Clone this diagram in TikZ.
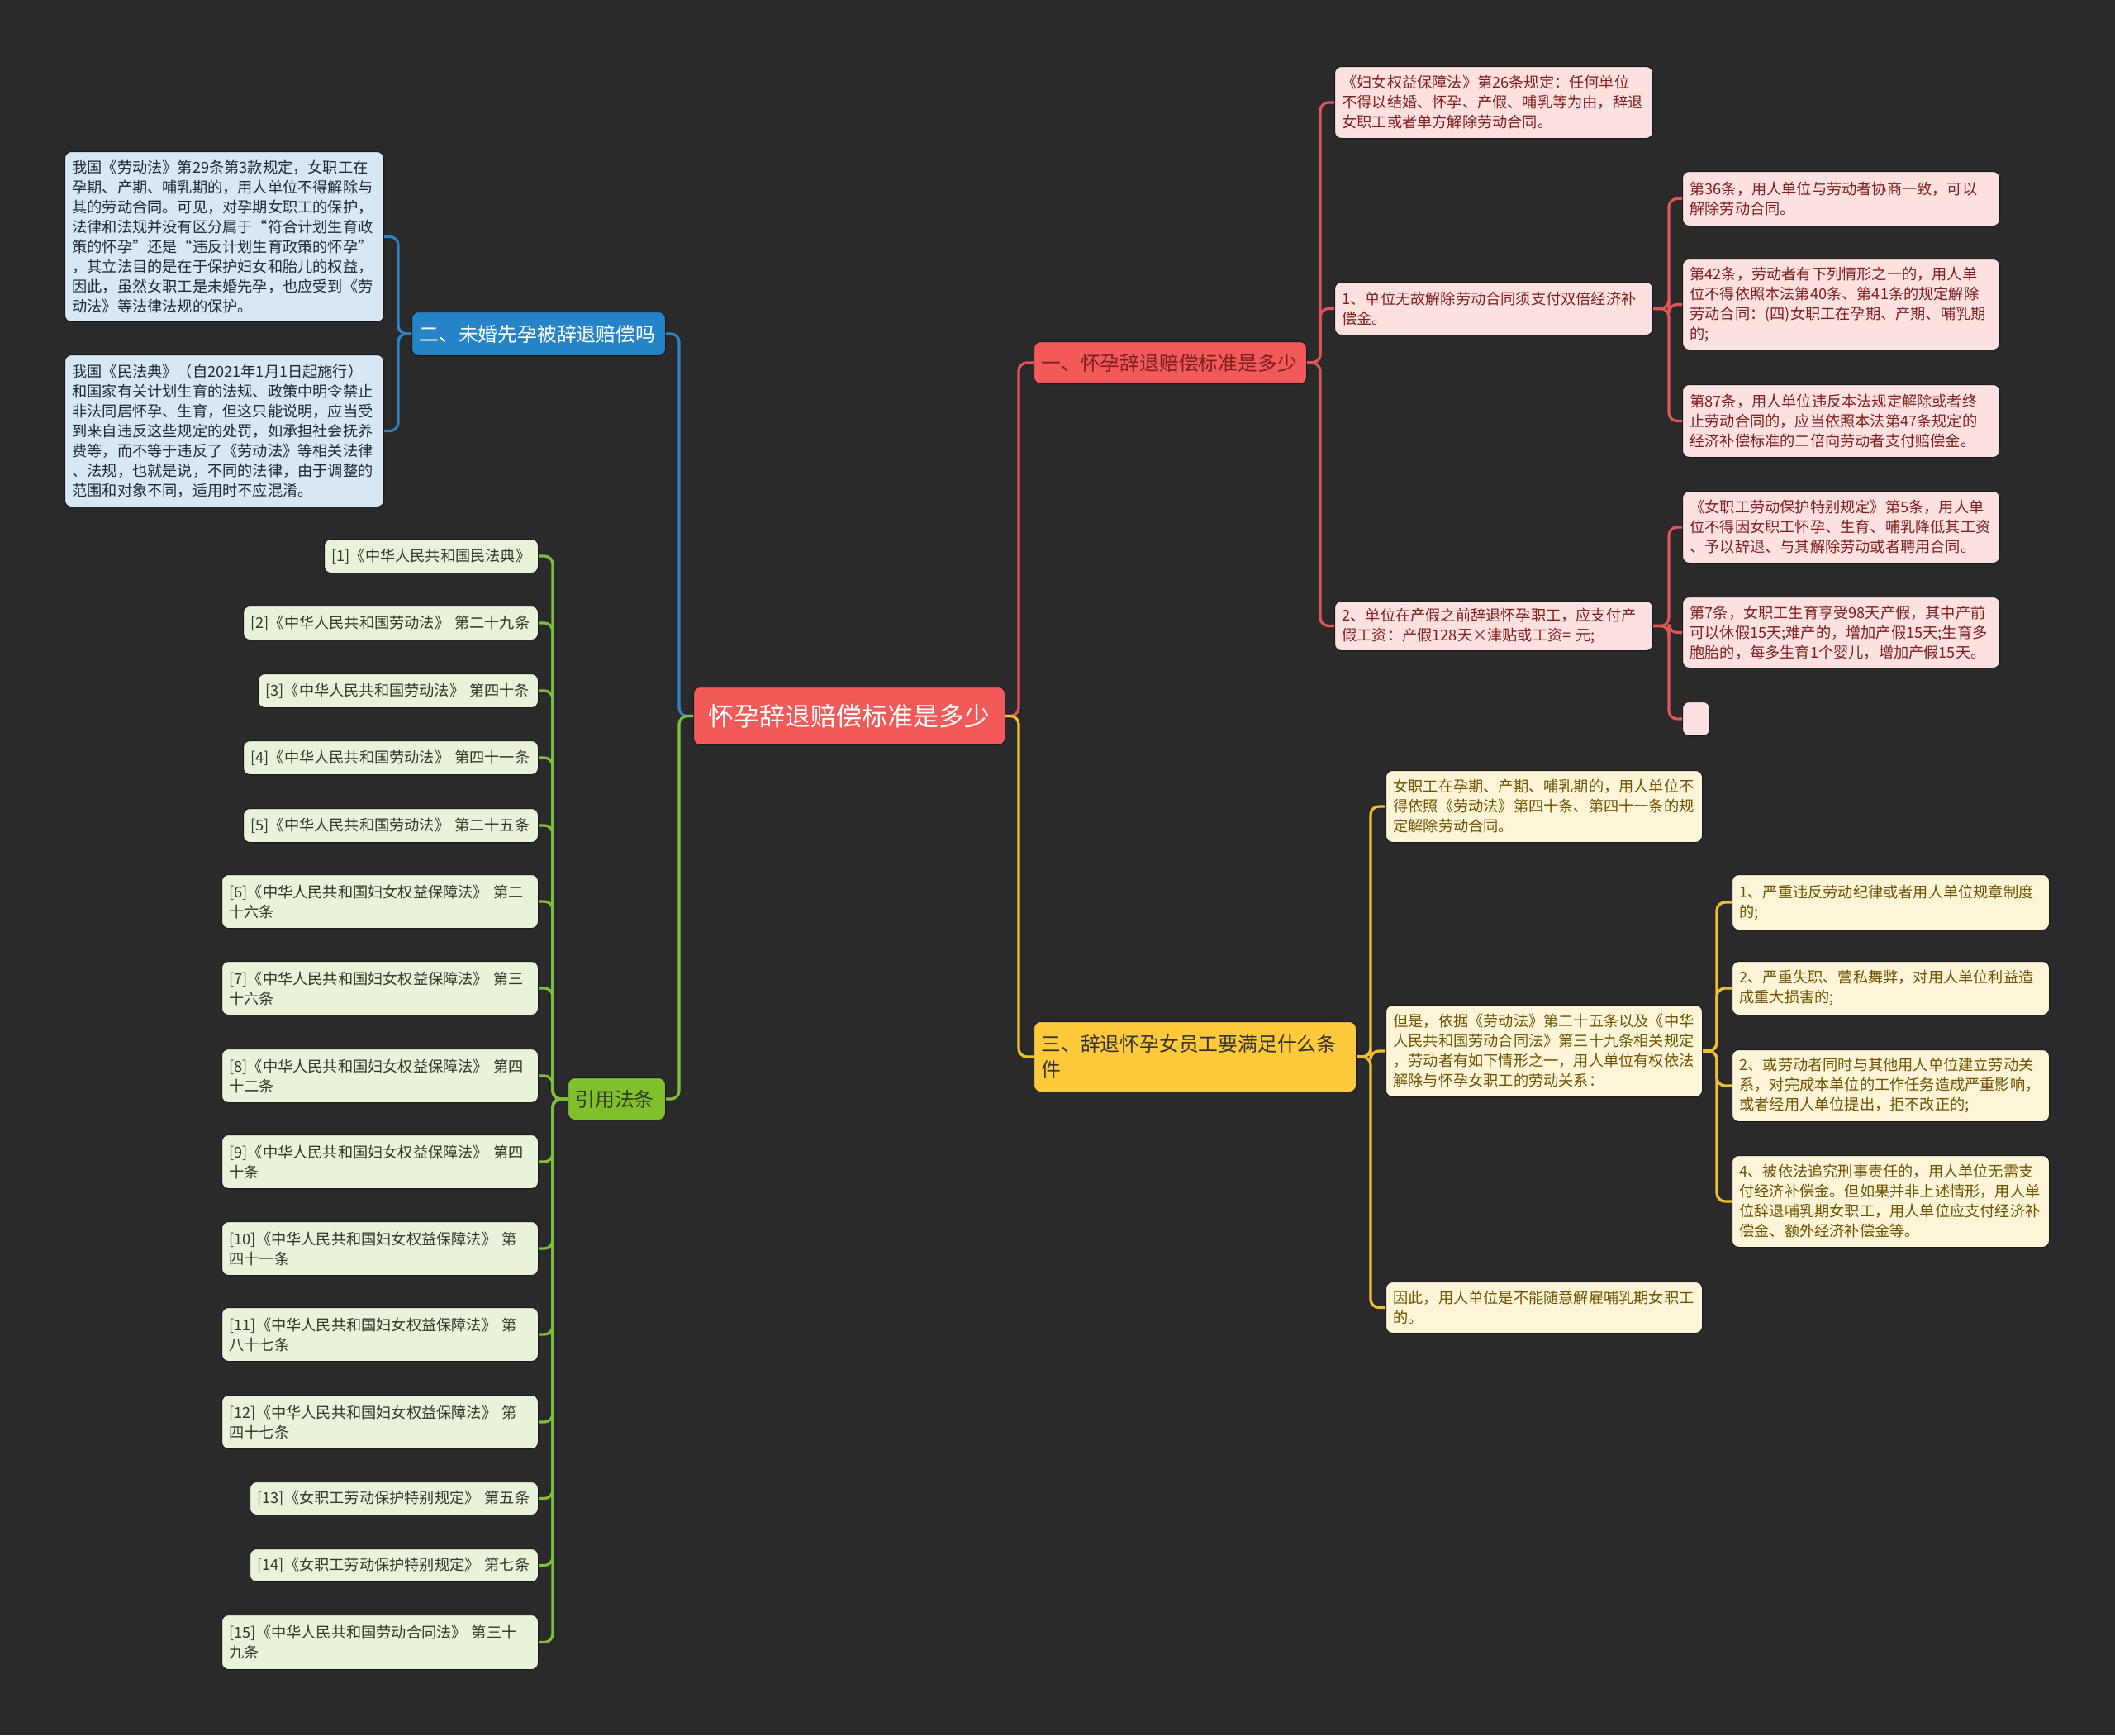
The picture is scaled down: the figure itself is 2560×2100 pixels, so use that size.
\documentclass[tikz,border=0pt]{standalone}
\usepackage{fontspec}
\setmainfont{Noto Sans CJK SC}
\definecolor{bg}{HTML}{2A2A2A}
\definecolor{cRed}{HTML}{F25A5A}
\definecolor{lnRed}{HTML}{DE5656}
\definecolor{lfRed}{HTML}{FDE1E1}
\definecolor{txRed}{HTML}{7E1F1F}
\definecolor{cBlue}{HTML}{2584C7}
\definecolor{lnBlue}{HTML}{2E83C4}
\definecolor{lfBlue}{HTML}{D6E7F5}
\definecolor{txBlue}{HTML}{1E2A36}
\definecolor{cGreen}{HTML}{80C02C}
\definecolor{lnGreen}{HTML}{7DC03A}
\definecolor{lfGreen}{HTML}{E9F3DA}
\definecolor{txGreen}{HTML}{303A28}
\definecolor{cYel}{HTML}{FFC93C}
\definecolor{lnYel}{HTML}{F0C030}
\definecolor{lfYel}{HTML}{FEF5D9}
\definecolor{txYel}{HTML}{6E5400}
\definecolor{edgeD}{HTML}{1A1A1A}
\newcommand{\leaffont}{\fontsize{9.1pt}{12pt}\selectfont}
\newcommand{\branchfont}{\fontsize{11.9pt}{15.2pt}\selectfont}
\newcommand{\mmbox}[7]{%
  \pgfmathsetmacro{\mmtw}{#5*0.5-9}%
  \node[#1, minimum width=#5*0.5pt, minimum height=#6*0.5pt, text width=\mmtw pt] (#2) at (#3,#4) {#7};}
\tikzset{
  base/.style={rounded corners=4pt, align=left, anchor=north west, inner xsep=4.5pt, inner ysep=2pt, draw=edgeD, line width=0.5pt},
  leafR/.style={base, fill=lfRed, text=txRed, font=\leaffont},
  leafB/.style={base, fill=lfBlue, text=txBlue, font=\leaffont},
  leafG/.style={base, fill=lfGreen, text=txGreen, font=\leaffont},
  leafY/.style={base, fill=lfYel, text=txYel, font=\leaffont},
  brR/.style={base, fill=cRed, text=txRed, font=\branchfont},
  brB/.style={base, fill=cBlue, text=white, font=\branchfont},
  brG/.style={base, fill=cGreen, text=txGreen, font=\branchfont},
  brY/.style={base, fill=cYel, text=black!80, font=\branchfont},
  root/.style={base, fill=cRed, text=white, align=center, font=\fontsize{15.5pt}{19pt}\selectfont},
  conn/.style={line width=1.6pt, rounded corners=5pt},
}
\begin{document}
\begin{tikzpicture}[x=0.5pt, y=-0.5pt]
\fill[bg] (0,0) rectangle (2560,2100);
\useasboundingbox (0,0) rectangle (2560,2100);

% root
\mmbox{root}{c}{839}{831}{377}{70}{怀孕辞退赔偿标准是多少}

% blue branch
\mmbox{brB}{b}{498}{377}{307}{53}{二、未婚先孕被辞退赔偿吗}
\mmbox{leafB}{b1}{78}{183}{386}{206}{我国《劳动法》第29条第3款规定，女职工在\\孕期、产期、哺乳期的，用人单位不得解除与\\其的劳动合同。可见，对孕期女职工的保护，\\法律和法规并没有区分属于“符合计划生育政\\策的怀孕”还是“违反计划生育政策的怀孕”\\，其立法目的是在于保护妇女和胎儿的权益，\\因此，虽然女职工是未婚先孕，也应受到《劳\\动法》等法律法规的保护。}
\mmbox{leafB}{b2}{78}{429}{386}{184}{我国《民法典》（自2021年1月1日起施行）\\和国家有关计划生育的法规、政策中明令禁止\\非法同居怀孕、生育，但这只能说明，应当受\\到来自违反这些规定的处罚，如承担社会抚养\\费等，而不等于违反了《劳动法》等相关法律\\、法规，也就是说，不同的法律，由于调整的\\范围和对象不同，适用时不应混淆。}

% green branch
\mmbox{brG}{g}{687}{1304}{118}{51}{引用法条}
\mmbox{leafG}{g1}{392}{652}{259}{41}{[1]《中华人民共和国民法典》}
\mmbox{leafG}{g2}{294}{733}{357}{41}{[2]《中华人民共和国劳动法》~第二十九条}
\mmbox{leafG}{g3}{312}{815}{339}{41}{[3]《中华人民共和国劳动法》~第四十条}
\mmbox{leafG}{g4}{294}{896}{357}{41}{[4]《中华人民共和国劳动法》~第四十一条}
\mmbox{leafG}{g5}{294}{978}{357}{41}{[5]《中华人民共和国劳动法》~第二十五条}
\mmbox{leafG}{g6}{268}{1058}{383}{65}{[6]《中华人民共和国妇女权益保障法》~第二\\十六条}
\mmbox{leafG}{g7}{268}{1163}{383}{65}{[7]《中华人民共和国妇女权益保障法》~第三\\十六条}
\mmbox{leafG}{g8}{268}{1269}{383}{65}{[8]《中华人民共和国妇女权益保障法》~第四\\十二条}
\mmbox{leafG}{g9}{268}{1373}{383}{65}{[9]《中华人民共和国妇女权益保障法》~第四\\十条}
\mmbox{leafG}{g10}{268}{1478}{383}{65}{[10]《中华人民共和国妇女权益保障法》~第\\四十一条}
\mmbox{leafG}{g11}{268}{1582}{383}{65}{[11]《中华人民共和国妇女权益保障法》~第\\八十七条}
\mmbox{leafG}{g12}{268}{1688}{383}{65}{[12]《中华人民共和国妇女权益保障法》~第\\四十七条}
\mmbox{leafG}{g13}{302}{1793}{349}{40}{[13]《女职工劳动保护特别规定》~第五条}
\mmbox{leafG}{g14}{302}{1874}{349}{40}{[14]《女职工劳动保护特别规定》~第七条}
\mmbox{leafG}{g15}{268}{1954}{383}{66}{[15]《中华人民共和国劳动合同法》~第三十\\九条}

% red branch
\mmbox{brR}{r}{1251}{413}{330}{51}{一、怀孕辞退赔偿标准是多少}
\mmbox{leafR}{r1}{1615}{80}{385}{87}{《妇女权益保障法》第26条规定：任何单位\\不得以结婚、怀孕、产假、哺乳等为由，辞退\\女职工或者单方解除劳动合同。}
\mmbox{leafR}{r2}{1615}{341}{385}{64}{1、单位无故解除劳动合同须支付双倍经济补\\偿金。}
\mmbox{leafR}{r3}{1615}{727}{385}{60}{2、单位在产假之前辞退怀孕职工，应支付产\\假工资：产假128天×津贴或工资= 元;}
\mmbox{leafR}{r2a}{2036}{207}{384}{66}{第36条，用人单位与劳动者协商一致，可以\\解除劳动合同。}
\mmbox{leafR}{r2b}{2036}{313}{384}{110}{第42条，劳动者有下列情形之一的，用人单\\位不得依照本法第40条、第41条的规定解除\\劳动合同：(四)女职工在孕期、产期、哺乳期\\的;}
\mmbox{leafR}{r2c}{2036}{465}{384}{88}{第87条，用人单位违反本法规定解除或者终\\止劳动合同的，应当依照本法第47条规定的\\经济补偿标准的二倍向劳动者支付赔偿金。}
\mmbox{leafR}{r3a}{2036}{594}{384}{87}{《女职工劳动保护特别规定》第5条，用人单\\位不得因女职工怀孕、生育、哺乳降低其工资\\、予以辞退、与其解除劳动或者聘用合同。}
\mmbox{leafR}{r3b}{2036}{722}{384}{86}{第7条，女职工生育享受98天产假，其中产前\\可以休假15天;难产的，增加产假15天;生育多\\胞胎的，每多生育1个婴儿，增加产假15天。}
\mmbox{leafR}{r3c}{2036}{849}{33}{41}{}

% yellow branch
\mmbox{brY}{y}{1251}{1236}{390}{85}{三、辞退怀孕女员工要满足什么条\\件}
\mmbox{leafY}{y1}{1677}{932}{383}{87}{女职工在孕期、产期、哺乳期的，用人单位不\\得依照《劳动法》第四十条、第四十一条的规\\定解除劳动合同。}
\mmbox{leafY}{y2}{1677}{1216}{383}{111}{但是，依据《劳动法》第二十五条以及《中华\\人民共和国劳动合同法》第三十九条相关规定\\，劳动者有如下情形之一，用人单位有权依法\\解除与怀孕女职工的劳动关系：}
\mmbox{leafY}{y3}{1677}{1551}{383}{62}{因此，用人单位是不能随意解雇哺乳期女职工\\的。}
\mmbox{leafY}{y2a}{2096}{1058}{384}{67}{1、严重违反劳动纪律或者用人单位规章制度\\的;}
\mmbox{leafY}{y2b}{2096}{1163}{384}{65}{2、严重失职、营私舞弊，对用人单位利益造\\成重大损害的;}
\mmbox{leafY}{y2c}{2096}{1270}{384}{87}{2、或劳动者同时与其他用人单位建立劳动关\\系，对完成本单位的工作任务造成严重影响，\\或者经用人单位提出，拒不改正的;}
\mmbox{leafY}{y2d}{2096}{1398}{384}{111}{4、被依法追究刑事责任的，用人单位无需支\\付经济补偿金。但如果并非上述情形，用人单\\位辞退哺乳期女职工，用人单位应支付经济补\\偿金、额外经济补偿金等。}

% connectors
\draw[conn, lnRed] (c.east) -| ([xshift=-9pt]r.west) -- (r.west);
\draw[conn, lnYel] (c.east) -| ([xshift=-9pt]y.west) -- (y.west);
\draw[conn, lnBlue] (c.west) -| ([xshift=8pt]b.east) -- (b.east);
\draw[conn, lnGreen] (c.west) -| ([xshift=8pt]g.east) -- (g.east);
\foreach \k in {b1,b2} \draw[conn, lnBlue] (b.west) -| ([xshift=8.5pt]\k.east) -- (\k.east);
\foreach \k in {g1,g2,g3,g4,g5,g6,g7,g8,g9,g10,g11,g12,g13,g14,g15} \draw[conn, lnGreen] (g.west) -| ([xshift=8.5pt]\k.east) -- (\k.east);
\foreach \k in {r1,r2,r3} \draw[conn, lnRed] (r.east) -| ([xshift=-8.5pt]\k.west) -- (\k.west);
\foreach \k in {r2a,r2b,r2c} \draw[conn, lnRed] (r2.east) -| ([xshift=-8pt]\k.west) -- (\k.west);
\foreach \k in {r3a,r3b,r3c} \draw[conn, lnRed] (r3.east) -| ([xshift=-8pt]\k.west) -- (\k.west);
\foreach \k in {y1,y2,y3} \draw[conn, lnYel] (y.east) -| ([xshift=-9pt]\k.west) -- (\k.west);
\foreach \k in {y2a,y2b,y2c,y2d} \draw[conn, lnYel] (y2.east) -| ([xshift=-9pt]\k.west) -- (\k.west);
\end{tikzpicture}
\end{document}
